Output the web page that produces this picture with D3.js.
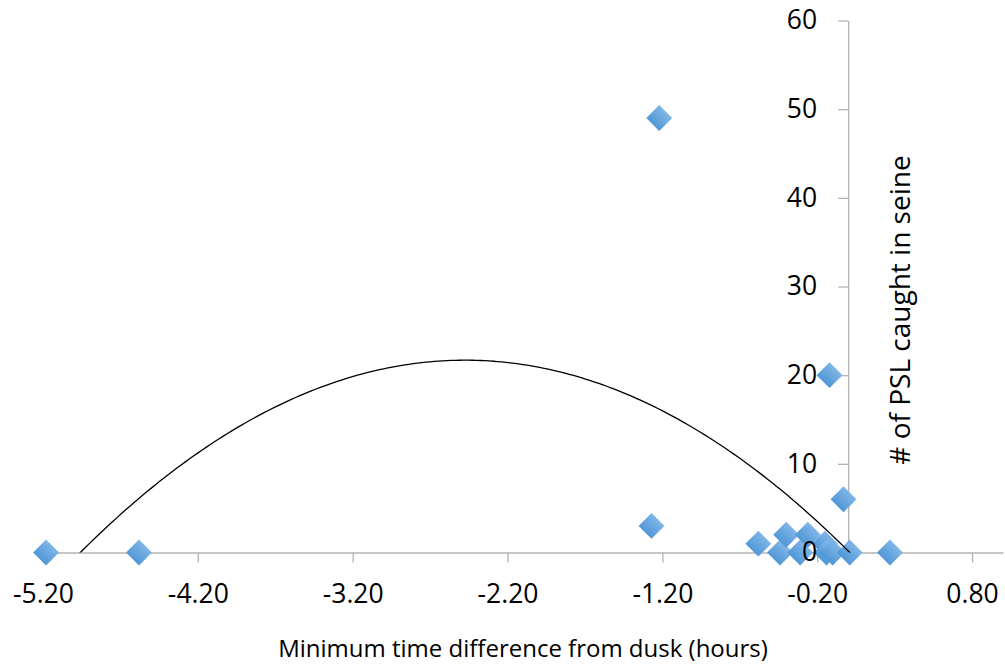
<!DOCTYPE html>
<html>
<head>
<meta charset="utf-8">
<script src="https://cdn.jsdelivr.net/npm/d3@7"></script>
<style>
  body { margin: 0; background: #fff; }
  text { font-family: "Open Sans", sans-serif; fill: #000; }
</style>
</head>
<body>
<svg id="chart"></svg>
<script>
// hours from dusk vs number of PSL caught in seine
let hours = [-5.18, -4.58, -1.22, -1.27, -0.58, -0.44, -0.40, -0.31, -0.26, -0.15, -0.14, -0.10, 0.01, -0.03, -0.12, 0.27];
let caught = [0, 0, 49, 3, 1, 0, 2, 0, 2, 1, 0, 0, 0, 6, 20, 0];

// polynomial (order 2) trendline coefficients: a*x^2 + b*x + c
let trendCoef = [-3.514, -17.39, 0.174];

let xTicks = [-5.2, -4.2, -3.2, -2.2, -1.2, -0.2, 0.8];
let yTicks = [0, 10, 20, 30, 40, 50, 60];

let width = 1005;
let height = 666;

let xScale = d3.scaleLinear()
        .domain([-5.2, 1.0])
        .range([43, 1003]);

let yScale = d3.scaleLinear()
        .domain([0, 60])
        .range([552.5, 20.5]);

let svg = d3.select('#chart')
        .attr('width', width)
        .attr('height', height);

let defs = svg.append('defs');
let grad = defs.append('linearGradient')
        .attr('id', 'diamondFill')
        .attr('x1', 0).attr('y1', 0)
        .attr('x2', 0).attr('y2', 1);
grad.append('stop').attr('offset', '0%').attr('stop-color', '#80b6e8');
grad.append('stop').attr('offset', '100%').attr('stop-color', '#5097d6');

defs.append('clipPath')
        .attr('id', 'plotClip')
        .append('rect')
        .attr('x', xScale(-5.2))
        .attr('y', yScale(60))
        .attr('width', xScale(1.0) - xScale(-5.2))
        .attr('height', yScale(0) - yScale(60));

let xAxis = d3.axisBottom(xScale)
        .tickValues(xTicks)
        .tickFormat(d => d.toFixed(2))
        .tickSize(10)
        .tickSizeOuter(0)
        .tickPadding(22);

let yAxis = d3.axisLeft(yScale)
        .tickValues(yTicks)
        .tickFormat(d => d)
        .tickSize(10)
        .tickSizeOuter(0)
        .tickPadding(21);

function styleAxis(g) {
    g.selectAll('path, line').attr('stroke', '#b3b3b3').attr('stroke-width', 1.3);
    g.selectAll('text').style('font-size', '26.5px').attr('fill', '#000');
}

// axis lines (under the points)
let xLines = svg.append('g')
        .attr('transform', 'translate(0,' + yScale(0) + ')')
        .call(xAxis)
        .call(styleAxis);
xLines.selectAll('text').remove();

let yLines = svg.append('g')
        .attr('transform', 'translate(' + xScale(0) + ',0)')
        .call(yAxis)
        .call(styleAxis);
yLines.selectAll('text').remove();

// points
let pts = hours.map((h, i) => ({ x: h, y: caught[i] }));
let diamond = d3.symbol(d3.symbolSquare, 335);

svg.append('g')
        .selectAll('path')
        .data(pts)
        .enter()
        .append('path')
        .attr('d', diamond)
        .attr('transform', d => 'translate(' + xScale(d.x) + ',' + yScale(d.y) + ') rotate(45)')
        .attr('fill', 'url(#diamondFill)');

// trendline over the range of the data
let xMin = d3.min(hours), xMax = d3.max(hours);
let trendPts = d3.range(0, 201).map(i => {
    let xv = xMin + (xMax - xMin) * i / 200;
    return [xv, trendCoef[0] * xv * xv + trendCoef[1] * xv + trendCoef[2]];
});

svg.append('path')
        .datum(trendPts)
        .attr('clip-path', 'url(#plotClip)')
        .attr('fill', 'none')
        .attr('stroke', '#000')
        .attr('stroke-width', 1.3)
        .attr('d', d3.line().x(d => xScale(d[0])).y(d => yScale(d[1])));

// tick labels on top
let xLabels = svg.append('g')
        .attr('transform', 'translate(0,' + yScale(0) + ')')
        .call(xAxis)
        .call(styleAxis);
xLabels.selectAll('path, line').remove();

let yLabels = svg.append('g')
        .attr('transform', 'translate(' + xScale(0) + ',0)')
        .call(yAxis)
        .call(styleAxis);
yLabels.selectAll('path, line').remove();

// axis titles
svg.append('text')
        .attr('x', (xScale(-5.2) + xScale(1.0)) / 2)
        .attr('y', 657)
        .style('text-anchor', 'middle')
        .style('font-size', '24px')
        .text('Minimum time difference from dusk (hours)');

svg.append('text')
        .attr('transform', 'translate(910,310) rotate(-90)')
        .style('text-anchor', 'middle')
        .style('font-size', '28px')
        .text('# of PSL caught in seine');
</script>
</body>
</html>
